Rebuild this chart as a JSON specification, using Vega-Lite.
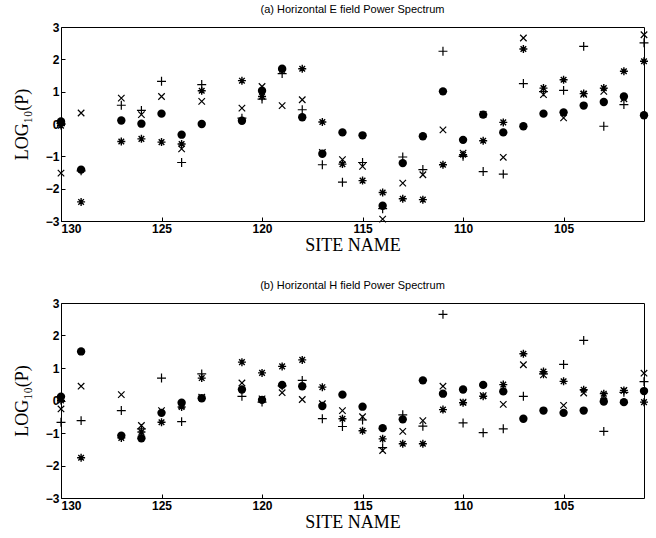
{
"$schema": "https://vega.github.io/schema/vega-lite/v6.json",
"padding": {"left": 12, "top": 3, "right": 5, "bottom": 5},
"background": "white",
"config": {
  "view": {"stroke": "black", "strokeWidth": 1},
  "axis": {"labelFont": "Liberation Sans", "labelFontWeight": "bold", "labelFontSize": 12, "labelColor": "black",
           "titleFont": "Liberation Serif", "titleFontSize": 18, "titleFontWeight": "normal", "titleColor": "black",
           "domain": false, "grid": false, "tickColor": "black", "tickSize": -4, "labelPadding": 6},
  "title": {"font": "Liberation Sans", "fontSize": 11, "fontWeight": "normal", "color": "black", "offset": 6}
},
"datasets": {"d": [
{"p":"a","s":130,"t":"o","v":0.08},{"p":"a","s":130,"t":"a","v":-0.05},{"p":"a","s":130,"t":"x","v":-1.52},{"p":"a","s":130,"t":"p","v":0.02},
{"p":"a","s":129,"t":"x","v":0.34},{"p":"a","s":129,"t":"o","v":-1.41},{"p":"a","s":129,"t":"a","v":-2.41},{"p":"a","s":129,"t":"p","v":-1.45},
{"p":"a","s":127,"t":"x","v":0.80},{"p":"a","s":127,"t":"p","v":0.58},{"p":"a","s":127,"t":"o","v":0.11},{"p":"a","s":127,"t":"a","v":-0.54},
{"p":"a","s":126,"t":"p","v":0.42},{"p":"a","s":126,"t":"x","v":0.29},{"p":"a","s":126,"t":"o","v":0.01},{"p":"a","s":126,"t":"a","v":-0.46},
{"p":"a","s":125,"t":"p","v":1.32},{"p":"a","s":125,"t":"x","v":0.85},{"p":"a","s":125,"t":"o","v":0.32},{"p":"a","s":125,"t":"a","v":-0.56},
{"p":"a","s":124,"t":"o","v":-0.33},{"p":"a","s":124,"t":"a","v":-0.62},{"p":"a","s":124,"t":"x","v":-0.77},{"p":"a","s":124,"t":"p","v":-1.19},
{"p":"a","s":123,"t":"p","v":1.22},{"p":"a","s":123,"t":"a","v":1.03},{"p":"a","s":123,"t":"x","v":0.70},{"p":"a","s":123,"t":"o","v":0.0},
{"p":"a","s":121,"t":"a","v":1.34},{"p":"a","s":121,"t":"x","v":0.49},{"p":"a","s":121,"t":"o","v":0.10},{"p":"a","s":121,"t":"p","v":0.18},
{"p":"a","s":120,"t":"x","v":1.16},{"p":"a","s":120,"t":"o","v":1.03},{"p":"a","s":120,"t":"a","v":0.85},{"p":"a","s":120,"t":"p","v":0.77},
{"p":"a","s":119,"t":"o","v":1.71},{"p":"a","s":119,"t":"p","v":1.56},{"p":"a","s":119,"t":"x","v":0.57},{"p":"a","s":119,"t":"a","v":1.68},
{"p":"a","s":118,"t":"a","v":1.71},{"p":"a","s":118,"t":"x","v":0.75},{"p":"a","s":118,"t":"p","v":0.44},{"p":"a","s":118,"t":"o","v":0.21},
{"p":"a","s":117,"t":"a","v":0.06},{"p":"a","s":117,"t":"o","v":-0.92},{"p":"a","s":117,"t":"p","v":-1.26},{"p":"a","s":117,"t":"x","v":-0.88},
{"p":"a","s":116,"t":"o","v":-0.26},{"p":"a","s":116,"t":"x","v":-1.10},{"p":"a","s":116,"t":"a","v":-1.24},{"p":"a","s":116,"t":"p","v":-1.80},
{"p":"a","s":115,"t":"o","v":-0.35},{"p":"a","s":115,"t":"p","v":-1.19},{"p":"a","s":115,"t":"x","v":-1.31},{"p":"a","s":115,"t":"a","v":-1.75},
{"p":"a","s":114,"t":"a","v":-2.12},{"p":"a","s":114,"t":"o","v":-2.53},{"p":"a","s":114,"t":"p","v":-2.62},{"p":"a","s":114,"t":"x","v":-2.94},
{"p":"a","s":113,"t":"p","v":-1.02},{"p":"a","s":113,"t":"o","v":-1.21},{"p":"a","s":113,"t":"x","v":-1.83},{"p":"a","s":113,"t":"a","v":-2.31},
{"p":"a","s":112,"t":"o","v":-0.38},{"p":"a","s":112,"t":"p","v":-1.41},{"p":"a","s":112,"t":"x","v":-1.57},{"p":"a","s":112,"t":"a","v":-2.34},
{"p":"a","s":111,"t":"p","v":2.25},{"p":"a","s":111,"t":"o","v":1.01},{"p":"a","s":111,"t":"x","v":-0.18},{"p":"a","s":111,"t":"a","v":-1.26},
{"p":"a","s":110,"t":"o","v":-0.49},{"p":"a","s":110,"t":"a","v":-0.95},{"p":"a","s":110,"t":"x","v":-0.90},{"p":"a","s":110,"t":"p","v":-1.0},
{"p":"a","s":109,"t":"o","v":0.29},{"p":"a","s":109,"t":"a","v":-0.52},{"p":"a","s":109,"t":"p","v":-1.47},{"p":"a","s":109,"t":"x","v":0.30},
{"p":"a","s":108,"t":"a","v":0.05},{"p":"a","s":108,"t":"o","v":-0.26},{"p":"a","s":108,"t":"x","v":-1.03},{"p":"a","s":108,"t":"p","v":-1.55},
{"p":"a","s":107,"t":"x","v":2.66},{"p":"a","s":107,"t":"a","v":2.32},{"p":"a","s":107,"t":"p","v":1.25},{"p":"a","s":107,"t":"o","v":-0.07},
{"p":"a","s":106,"t":"a","v":1.11},{"p":"a","s":106,"t":"x","v":0.91},{"p":"a","s":106,"t":"p","v":1.0},{"p":"a","s":106,"t":"o","v":0.32},
{"p":"a","s":105,"t":"a","v":1.37},{"p":"a","s":105,"t":"p","v":1.04},{"p":"a","s":105,"t":"o","v":0.36},{"p":"a","s":105,"t":"x","v":0.19},
{"p":"a","s":104,"t":"p","v":2.40},{"p":"a","s":104,"t":"a","v":0.94},{"p":"a","s":104,"t":"o","v":0.57},{"p":"a","s":104,"t":"x","v":0.92},
{"p":"a","s":103,"t":"a","v":1.11},{"p":"a","s":103,"t":"x","v":1.01},{"p":"a","s":103,"t":"o","v":0.68},{"p":"a","s":103,"t":"p","v":-0.07},
{"p":"a","s":102,"t":"a","v":1.63},{"p":"a","s":102,"t":"o","v":0.85},{"p":"a","s":102,"t":"x","v":0.78},{"p":"a","s":102,"t":"p","v":0.60},
{"p":"a","s":101,"t":"x","v":2.76},{"p":"a","s":101,"t":"p","v":2.51},{"p":"a","s":101,"t":"a","v":1.94},{"p":"a","s":101,"t":"o","v":0.27},
{"p":"b","s":130,"t":"o","v":0.12},{"p":"b","s":130,"t":"x","v":-0.26},{"p":"b","s":130,"t":"p","v":-0.67},{"p":"b","s":130,"t":"a","v":0.0},
{"p":"b","s":129,"t":"o","v":1.51},{"p":"b","s":129,"t":"x","v":0.44},{"p":"b","s":129,"t":"p","v":-0.62},{"p":"b","s":129,"t":"a","v":-1.76},
{"p":"b","s":127,"t":"x","v":0.18},{"p":"b","s":127,"t":"p","v":-0.31},{"p":"b","s":127,"t":"o","v":-1.08},{"p":"b","s":127,"t":"a","v":-1.15},
{"p":"b","s":126,"t":"x","v":-0.77},{"p":"b","s":126,"t":"p","v":-0.87},{"p":"b","s":126,"t":"a","v":-0.97},{"p":"b","s":126,"t":"o","v":-1.16},
{"p":"b","s":125,"t":"p","v":0.69},{"p":"b","s":125,"t":"x","v":-0.31},{"p":"b","s":125,"t":"o","v":-0.38},{"p":"b","s":125,"t":"a","v":-0.67},
{"p":"b","s":124,"t":"o","v":-0.07},{"p":"b","s":124,"t":"x","v":-0.15},{"p":"b","s":124,"t":"a","v":-0.2},{"p":"b","s":124,"t":"p","v":-0.65},
{"p":"b","s":123,"t":"p","v":0.82},{"p":"b","s":123,"t":"a","v":0.69},{"p":"b","s":123,"t":"o","v":0.07},{"p":"b","s":123,"t":"x","v":0.1},
{"p":"b","s":121,"t":"a","v":1.18},{"p":"b","s":121,"t":"x","v":0.54},{"p":"b","s":121,"t":"o","v":0.34},{"p":"b","s":121,"t":"p","v":0.13},
{"p":"b","s":120,"t":"a","v":0.85},{"p":"b","s":120,"t":"o","v":0.02},{"p":"b","s":120,"t":"p","v":-0.05},{"p":"b","s":120,"t":"x","v":0.05},
{"p":"b","s":119,"t":"a","v":1.05},{"p":"b","s":119,"t":"o","v":0.48},{"p":"b","s":119,"t":"x","v":0.24},{"p":"b","s":119,"t":"p","v":0.45},
{"p":"b","s":118,"t":"a","v":1.25},{"p":"b","s":118,"t":"p","v":0.62},{"p":"b","s":118,"t":"o","v":0.44},{"p":"b","s":118,"t":"x","v":0.03},
{"p":"b","s":117,"t":"a","v":0.41},{"p":"b","s":117,"t":"o","v":-0.17},{"p":"b","s":117,"t":"p","v":-0.56},{"p":"b","s":117,"t":"x","v":-0.1},
{"p":"b","s":116,"t":"o","v":0.18},{"p":"b","s":116,"t":"x","v":-0.31},{"p":"b","s":116,"t":"a","v":-0.56},{"p":"b","s":116,"t":"p","v":-0.80},
{"p":"b","s":115,"t":"o","v":-0.19},{"p":"b","s":115,"t":"x","v":-0.5},{"p":"b","s":115,"t":"p","v":-0.6},{"p":"b","s":115,"t":"a","v":-0.93},
{"p":"b","s":114,"t":"o","v":-0.85},{"p":"b","s":114,"t":"a","v":-1.18},{"p":"b","s":114,"t":"x","v":-1.54},{"p":"b","s":114,"t":"p","v":-1.45},
{"p":"b","s":113,"t":"p","v":-0.44},{"p":"b","s":113,"t":"o","v":-0.58},{"p":"b","s":113,"t":"x","v":-0.95},{"p":"b","s":113,"t":"a","v":-1.33},
{"p":"b","s":112,"t":"o","v":0.62},{"p":"b","s":112,"t":"x","v":-0.62},{"p":"b","s":112,"t":"p","v":-0.79},{"p":"b","s":112,"t":"a","v":-1.33},
{"p":"b","s":111,"t":"p","v":2.65},{"p":"b","s":111,"t":"x","v":0.44},{"p":"b","s":111,"t":"o","v":0.21},{"p":"b","s":111,"t":"a","v":-0.28},
{"p":"b","s":110,"t":"o","v":0.34},{"p":"b","s":110,"t":"a","v":-0.07},{"p":"b","s":110,"t":"x","v":-0.05},{"p":"b","s":110,"t":"p","v":-0.69},
{"p":"b","s":109,"t":"o","v":0.48},{"p":"b","s":109,"t":"a","v":0.13},{"p":"b","s":109,"t":"x","v":0.15},{"p":"b","s":109,"t":"p","v":-0.99},
{"p":"b","s":108,"t":"a","v":0.49},{"p":"b","s":108,"t":"o","v":0.28},{"p":"b","s":108,"t":"x","v":-0.12},{"p":"b","s":108,"t":"p","v":-0.87},
{"p":"b","s":107,"t":"a","v":1.44},{"p":"b","s":107,"t":"x","v":1.10},{"p":"b","s":107,"t":"p","v":0.13},{"p":"b","s":107,"t":"o","v":-0.56},
{"p":"b","s":106,"t":"a","v":0.89},{"p":"b","s":106,"t":"x","v":0.79},{"p":"b","s":106,"t":"p","v":0.82},{"p":"b","s":106,"t":"o","v":-0.31},
{"p":"b","s":105,"t":"p","v":1.11},{"p":"b","s":105,"t":"a","v":0.59},{"p":"b","s":105,"t":"x","v":-0.15},{"p":"b","s":105,"t":"o","v":-0.38},
{"p":"b","s":104,"t":"p","v":1.85},{"p":"b","s":104,"t":"a","v":0.33},{"p":"b","s":104,"t":"x","v":0.23},{"p":"b","s":104,"t":"o","v":-0.31},
{"p":"b","s":103,"t":"a","v":0.21},{"p":"b","s":103,"t":"x","v":0.15},{"p":"b","s":103,"t":"o","v":-0.03},{"p":"b","s":103,"t":"p","v":-0.95},
{"p":"b","s":102,"t":"a","v":0.31},{"p":"b","s":102,"t":"x","v":0.31},{"p":"b","s":102,"t":"o","v":-0.05},{"p":"b","s":102,"t":"p","v":0.25},
{"p":"b","s":101,"t":"x","v":0.84},{"p":"b","s":101,"t":"p","v":0.58},{"p":"b","s":101,"t":"o","v":0.29},{"p":"b","s":101,"t":"a","v":-0.05}
]},
"spacing": 24,
"vconcat": [
 {
  "width": 583, "height": 194,
  "title": {"text": "(a) Horizontal E field Power Spectrum"},
  "data": {"name": "d"},
  "transform": [{"filter": "datum.p == 'a'"}],
  "encoding": {
    "x": {"field": "s", "type": "quantitative", "scale": {"domain": [130, 101], "nice": false, "zero": false},
          "axis": {"values": [130, 125, 120, 115, 110, 105], "title": "SITE NAME", "titlePadding": 2}},
    "y": {"field": "v", "type": "quantitative", "scale": {"domain": [-3, 3], "nice": false},
          "axis": {"values": [-3, -2, -1, 0, 1, 2, 3], "title": "LOG₁₀(P)", "titlePadding": 14}}
  },
  "layer": [
    {"transform": [{"filter": "datum.t == 'p'"}], "mark": {"type": "point", "shape": "M0,-1L0,1M-1,0L1,0", "filled": false, "color": "black", "size": 80, "strokeWidth": 1.2, "opacity": 1}},
    {"transform": [{"filter": "datum.t == 'x'"}], "mark": {"type": "point", "shape": "M-1,-1L1,1M-1,1L1,-1", "filled": false, "color": "black", "size": 42, "strokeWidth": 1.2, "opacity": 1}},
    {"transform": [{"filter": "datum.t == 'a'"}], "mark": {"type": "point", "shape": "M0,-1L0,1M-1,0L1,0M-0.7,-0.7L0.7,0.7M-0.7,0.7L0.7,-0.7", "filled": false, "color": "black", "size": 64, "strokeWidth": 1.4, "opacity": 1}},
    {"transform": [{"filter": "datum.t == 'o'"}], "mark": {"type": "point", "shape": "circle", "filled": true, "color": "black", "size": 70, "opacity": 1}}
  ]
 },
 {
  "width": 583, "height": 195,
  "title": {"text": "(b) Horizontal H field Power Spectrum"},
  "data": {"name": "d"},
  "transform": [{"filter": "datum.p == 'b'"}],
  "encoding": {
    "x": {"field": "s", "type": "quantitative", "scale": {"domain": [130, 101], "nice": false, "zero": false},
          "axis": {"values": [130, 125, 120, 115, 110, 105], "title": "SITE NAME", "titlePadding": 2}},
    "y": {"field": "v", "type": "quantitative", "scale": {"domain": [-3, 3], "nice": false},
          "axis": {"values": [-3, -2, -1, 0, 1, 2, 3], "title": "LOG₁₀(P)", "titlePadding": 14}}
  },
  "layer": [
    {"transform": [{"filter": "datum.t == 'p'"}], "mark": {"type": "point", "shape": "M0,-1L0,1M-1,0L1,0", "filled": false, "color": "black", "size": 80, "strokeWidth": 1.2, "opacity": 1}},
    {"transform": [{"filter": "datum.t == 'x'"}], "mark": {"type": "point", "shape": "M-1,-1L1,1M-1,1L1,-1", "filled": false, "color": "black", "size": 42, "strokeWidth": 1.2, "opacity": 1}},
    {"transform": [{"filter": "datum.t == 'a'"}], "mark": {"type": "point", "shape": "M0,-1L0,1M-1,0L1,0M-0.7,-0.7L0.7,0.7M-0.7,0.7L0.7,-0.7", "filled": false, "color": "black", "size": 64, "strokeWidth": 1.4, "opacity": 1}},
    {"transform": [{"filter": "datum.t == 'o'"}], "mark": {"type": "point", "shape": "circle", "filled": true, "color": "black", "size": 70, "opacity": 1}}
  ]
 }
]
}
